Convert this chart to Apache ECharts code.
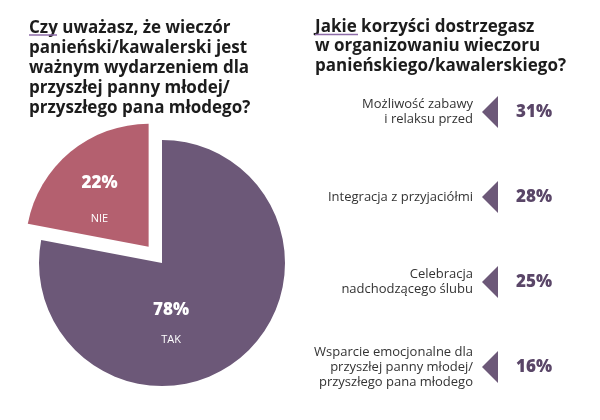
<!DOCTYPE html>
<html><head><meta charset="utf-8">
<script src="https://cdn.jsdelivr.net/npm/echarts@6/dist/echarts.min.js"></script>
<style>html,body{margin:0;padding:0;background:#fff}#c{width:600px;height:420px}</style>
</head><body><div id="c"></div>
<script>
const leftTitle = 'Czy uważasz, że wieczór\npanieński/kawalerski jest\nważnym wydarzeniem dla\nprzyszłej panny młodej/\nprzyszłego pana młodego?';
const rightTitle = 'Jakie korzyści dostrzegasz\nw organizowaniu wieczoru\npanieńskiego/kawalerskiego?';
const pieNames = ['TAK', 'NIE'];
const pieValues = [78, 22];
const benefitCategories = [
  'Możliwość zabawy\ni relaksu przed',
  'Integracja z przyjaciółmi',
  'Celebracja\nnadchodzącego ślubu',
  'Wsparcie emocjonalne dla\nprzyszłej panny młodej/\nprzyszłego pana młodego'
];
const benefitValues = [31, 28, 25, 16];

const FONT = '"Open Sans", "DejaVu Sans", sans-serif';
const C_TAK = '#6c5878';
const C_NIE = '#b4606f';
const pieColors = [C_TAK, C_NIE];
const pieLabelGap = [30, 36];
const pieShift = [[-32, 12], [-8, 4]];

const chart = echarts.init(document.getElementById('c'), null, {renderer: 'canvas'});
chart.setOption({
  backgroundColor: '#ffffff',
  animation: false,
  title: [
    {text: leftTitle, left: 29, top: 18, padding: 0,
     textStyle: {fontFamily: FONT, fontSize: 17, fontWeight: 700, color: '#1c1c1c', lineHeight: 20}},
    {text: rightTitle, left: 315, top: 17, padding: 0,
     textStyle: {fontFamily: FONT, fontSize: 17, fontWeight: 700, color: '#1c1c1c', lineHeight: 19.5}}
  ],
  graphic: [
    {type: 'line', z: 100, shape: {x1: 29, y1: 35, x2: 57, y2: 35}, style: {stroke: '#8e6ca8', lineWidth: 1.5}},
    {type: 'line', z: 100, shape: {x1: 315, y1: 34.5, x2: 358, y2: 34.5}, style: {stroke: '#8e6ca8', lineWidth: 1.5}}
  ],
  grid: {left: 490, right: 10, top: 69.5, bottom: 10.5},
  xAxis: {type: 'value', min: 0, max: 100, show: false},
  yAxis: {
    type: 'category', inverse: true, data: benefitCategories,
    axisLine: {show: false}, axisTick: {show: false}, splitLine: {show: false},
    axisLabel: {margin: 17, fontFamily: FONT, fontSize: 13, color: '#333', lineHeight: 15, align: 'right'}
  },
  series: [
    {
      type: 'pie', center: [162, 263], radius: 123, startAngle: 90, clockwise: true,
      selectedMode: 'single', selectedOffset: 21, silent: true,
      data: pieNames.map((n, i) => ({
        name: n, value: pieValues[i], selected: n === 'NIE',
        itemStyle: {color: pieColors[i]},
        label: {rich: {
          p: {fontFamily: FONT, fontSize: 17, fontWeight: 800, color: '#fff', lineHeight: pieLabelGap[i]},
          n: {fontFamily: FONT, fontSize: 11, color: '#fff', lineHeight: pieLabelGap[i]}
        }}
      })),
      label: {
        show: true, position: 'inside',
        formatter: p => '{p|' + p.value + '%}\n{n|' + p.name + '}'
      },
      labelLine: {show: false},
      labelLayout: p => ({dx: pieShift[p.dataIndex][0], dy: pieShift[p.dataIndex][1]})
    },
    {
      type: 'scatter', silent: true,
      symbol: 'path://M0,16L16,0L16,32Z', symbolSize: [16, 32],
      itemStyle: {color: C_TAK, opacity: 1},
      data: benefitValues.map((v, i) => [0, benefitCategories[i], v]),
      label: {
        show: true, position: 'right', distance: 18,
        formatter: p => p.value[2] + '%',
        fontFamily: FONT, fontSize: 17, fontWeight: 800, color: '#5a4668'
      }
    }
  ]
});
</script></body></html>
